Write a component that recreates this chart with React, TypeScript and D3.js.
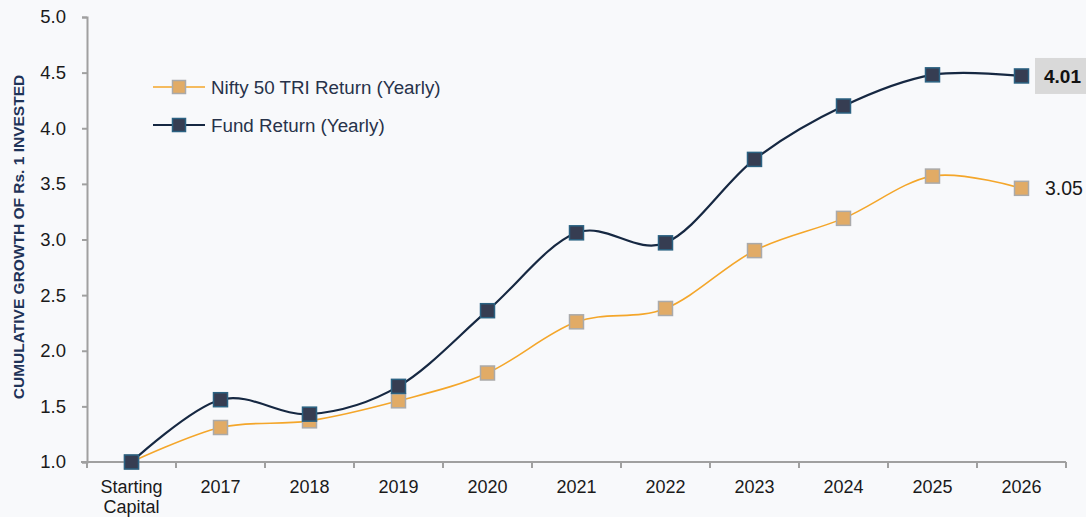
import React, { useEffect, useRef } from "react";
import * as d3 from "d3";

const categories = ["Starting\nCapital", "2017", "2018", "2019", "2020", "2021", "2022", "2023", "2024", "2025", "2026"];
const fundValues = [1.0, 1.56, 1.43, 1.68, 2.36, 3.06, 2.97, 3.72, 4.2, 4.48, 4.47];
const niftyValues = [1.0, 1.31, 1.37, 1.55, 1.8, 2.26, 2.38, 2.9, 3.19, 3.57, 3.46];
const yTicks = [1.0, 1.5, 2.0, 2.5, 3.0, 3.5, 4.0, 4.5, 5.0];
const seriesNames = ["Nifty 50 TRI Return (Yearly)", "Fund Return (Yearly)"];
const endLabels = ["3.05", "4.01"];

const W = 1086;
const H = 517;
const FONT = "'Liberation Sans', Arial, sans-serif";

const App = () => {
  const ref = useRef<SVGSVGElement>(null);

  useEffect(() => {
    const svg = d3.select(ref.current);
    svg.selectAll("*").remove();

    const left = 87, right = 1066, top = 17, bottom = 462;
    const x = d3.scaleBand().domain(categories).range([left, right]);
    const y = d3.scaleLinear().domain([1, 5]).range([bottom, top]);
    const cx = (i: number) => (x(categories[i]) as number) + x.bandwidth() / 2;

    svg.append("rect").attr("width", W).attr("height", H).attr("fill", "#f8f9fb");

    // y axis
    const yAxis = svg.append("g").attr("transform", `translate(${left},0)`)
      .call(d3.axisLeft(y).tickValues(yTicks).tickFormat(d3.format(".1f")).tickSize(5).tickSizeOuter(5).tickPadding(16));
    yAxis.select(".domain").attr("stroke", "#a0a0a0").attr("stroke-width", 2);
    yAxis.selectAll(".tick line").attr("stroke", "#a0a0a0").attr("stroke-width", 2);
    yAxis.selectAll(".tick text").attr("font-family", FONT).attr("font-size", 18.5).attr("fill", "#1a1a1a");

    // x axis
    const xAxis = svg.append("g").attr("transform", `translate(0,${bottom})`);
    xAxis.append("line").attr("x1", left - 6).attr("x2", right).attr("stroke", "#a0a0a0").attr("stroke-width", 2);
    const edges = categories.map((c) => x(c) as number).concat([right]);
    xAxis.selectAll("line.tk").data(edges).join("line").attr("class", "tk")
      .attr("x1", (d) => d).attr("x2", (d) => d).attr("y1", 0).attr("y2", 6)
      .attr("stroke", "#a0a0a0").attr("stroke-width", 2);
    xAxis.selectAll("text").data(categories).join("text")
      .attr("x", (_, i) => cx(i)).attr("y", 31)
      .attr("text-anchor", "middle").attr("font-family", FONT).attr("font-size", 18).attr("fill", "#1a1a1a")
      .each(function (d) {
        const t = d3.select(this);
        d.split("\n").forEach((s, k) => t.append("tspan").attr("x", cx(categories.indexOf(d))).attr("dy", k === 0 ? 0 : 20).text(s));
      });

    // y title
    svg.append("text")
      .attr("transform", `translate(24,237) rotate(-90)`)
      .attr("text-anchor", "middle").attr("font-family", FONT).attr("font-weight", "bold")
      .attr("font-size", 15.5).attr("fill", "#1f3358")
      .text("CUMULATIVE GROWTH OF Rs. 1 INVESTED");

    const line = d3.line<number>().x((_, i) => cx(i)).y((d) => y(d)).curve(d3.curveCardinal.tension(0));

    const styles = [
      { data: niftyValues, stroke: "#f4a62a", width: 1.6, fill: "#e1ab66", mstroke: "#aaaaaa" },
      { data: fundValues, stroke: "#162842", width: 2.2, fill: "#363d52", mstroke: "#2b6282" },
    ];
    const ms = 14;
    styles.forEach((s) => {
      svg.append("path").datum(s.data).attr("d", line).attr("fill", "none")
        .attr("stroke", s.stroke).attr("stroke-width", s.width);
      svg.append("g").selectAll("rect").data(s.data).join("rect")
        .attr("x", (_, i) => cx(i) - ms / 2).attr("y", (d) => y(d) - ms / 2)
        .attr("width", ms).attr("height", ms)
        .attr("fill", s.fill).attr("stroke", s.mstroke).attr("stroke-width", 1.5);
    });

    // legend
    const legendY = [87, 125];
    styles.forEach((s, k) => {
      const g = svg.append("g").attr("transform", `translate(153,${legendY[k]})`);
      g.append("line").attr("x1", 0).attr("x2", 52).attr("stroke", s.stroke).attr("stroke-width", s.width);
      g.append("rect").attr("x", 26 - 6.5).attr("y", -6.5).attr("width", 13).attr("height", 13)
        .attr("fill", s.fill).attr("stroke", s.mstroke).attr("stroke-width", 1.5);
      g.append("text").attr("x", 58).attr("y", 6.5).attr("font-family", FONT).attr("font-size", 18.8)
        .attr("fill", "#27324a").text(seriesNames[k]);
    });

    // end labels
    const last = categories.length - 1;
    const fy = y(fundValues[last]);
    svg.append("rect").attr("x", 1035).attr("y", fy - 18).attr("width", 51).attr("height", 36).attr("fill", "#d9d9d9");
    svg.append("text").attr("x", 1044).attr("y", fy + 7).attr("font-family", FONT).attr("font-weight", "bold")
      .attr("font-size", 19).attr("fill", "#111").text(endLabels[1]);
    svg.append("text").attr("x", 1045).attr("y", y(niftyValues[last]) + 7).attr("font-family", FONT)
      .attr("font-size", 19.5).attr("fill", "#1a1a1a").text(endLabels[0]);
  }, []);

  return (
    <div style={{ position: "absolute", left: 0, top: 0 }}>
      <svg ref={ref} width={W} height={H} style={{ display: "block" }} />
    </div>
  );
};

export default App;
